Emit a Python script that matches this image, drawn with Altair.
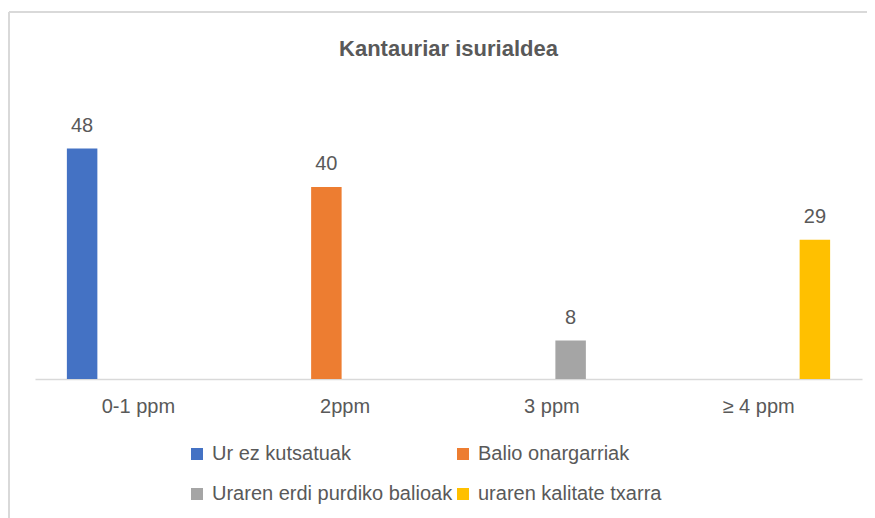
import altair as alt
import pandas as pd

title_text = ["Kantauriar isurialdea"]
categories = ["0-1 ppm", "2ppm", "3 ppm", "≥ 4 ppm"]
series = ["Ur ez kutsatuak", "Balio onargarriak", "Uraren erdi purdiko balioak", "uraren kalitate txarra"]
values = [48, 40, 8, 29]
colors = ["#4472C4", "#ED7D31", "#A5A5A5", "#FFC000"]

df = pd.DataFrame({"cat": categories, "ser": series, "val": values})
tdf = pd.DataFrame({"t": title_text})

W, H = 827, 288
FONT = "Liberation Sans"
GREY = "#595959"

x = alt.X("cat:N", sort=categories,
          scale=alt.Scale(paddingInner=0, paddingOuter=0),
          axis=alt.Axis(title=None, labelAngle=0, ticks=False, labelPadding=17,
                        labelFontSize=20, labelColor=GREY, labelFont=FONT,
                        domainColor="#d9d9d9", domainWidth=1.5, grid=False))
xo = alt.XOffset("ser:N", sort=series,
                 scale=alt.Scale(domain=series, paddingInner=0.187, paddingOuter=0.85))
y = alt.Y("val:Q", scale=alt.Scale(domain=[0, 60], nice=False), axis=None)

bars = alt.Chart(df).mark_bar().encode(
    x=x, xOffset=xo, y=y,
    color=alt.Color("ser:N", sort=series,
                    scale=alt.Scale(domain=series, range=colors),
                    legend=alt.Legend(title=None, orient="none", legendX=152, legendY=353,
                                      columns=2, direction="horizontal",
                                      symbolType="square", symbolSize=144,
                                      symbolStrokeWidth=0, labelFontSize=20,
                                      labelFont=FONT, labelColor=GREY,
                                      labelOffset=5, columnPadding=0, rowPadding=20,
                                      labelLimit=400, padding=0))
)

labels = alt.Chart(df).mark_text(fontSize=20, font=FONT, color=GREY, dy=-17,
                                 baseline="alphabetic").encode(
    x=x, xOffset=xo, y=y, text="val:Q"
)

title = alt.Chart(tdf).mark_text(font=FONT, fontSize=22,
                                 fontWeight="bold", color=GREY, align="center",
                                 baseline="alphabetic").encode(
    x=alt.value(W / 2), y=alt.value(-35), text="t:N"
)

frame_v = alt.Chart(df).mark_rule(color="#d9d9d9", strokeWidth=2).encode(
    x=alt.value(-26), y=alt.value(-79), y2=alt.value(H + 140)
)
frame_h = alt.Chart(df).mark_rule(color="#d9d9d9", strokeWidth=2).encode(
    x=alt.value(-26), x2=alt.value(W + 10), y=alt.value(-79)
)

chart = alt.layer(frame_v, frame_h, bars, labels, title).properties(
    width=W, height=H,
    autosize=alt.AutoSizeParams(type="none"),
    padding={"left": 27, "top": 83, "right": 5, "bottom": 139},
).configure_view(stroke=None)

chart.save("out.html", embed_options={"renderer": "svg", "actions": False})
